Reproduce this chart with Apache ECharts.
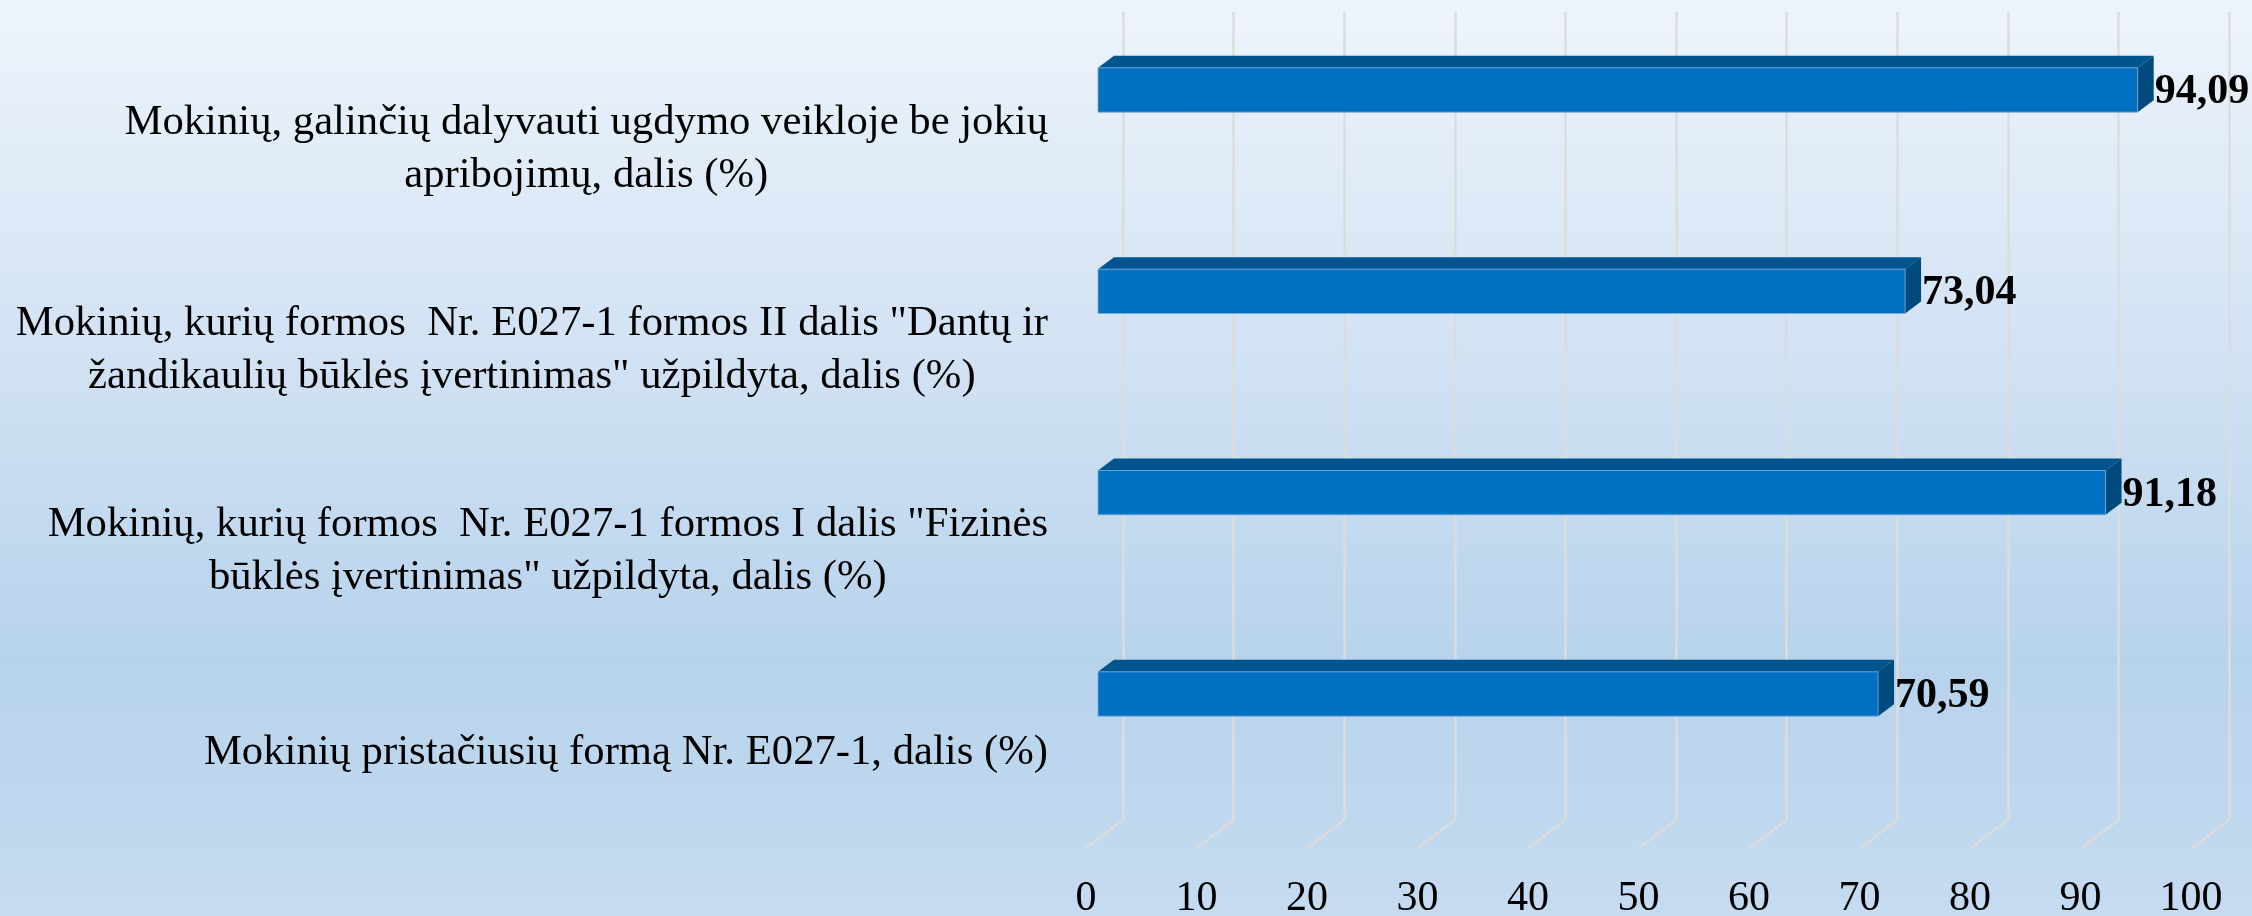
<!DOCTYPE html>
<html>
<head>
<meta charset="utf-8">
<script src="https://cdn.jsdelivr.net/npm/echarts@6/dist/echarts.min.js"></script>
<style>
  html, body { margin: 0; padding: 0; }
  #chart { width: 2252px; height: 916px; }
</style>
</head>
<body>
<div id="chart"></div>
<script>
var categories = [
  'Mokinių, galinčių dalyvauti ugdymo veikloje be jokių\napribojimų, dalis (%)',
  'Mokinių, kurių formos  Nr. E027-1 formos II dalis "Dantų ir\nžandikaulių būklės įvertinimas" užpildyta, dalis (%)',
  'Mokinių, kurių formos  Nr. E027-1 formos I dalis "Fizinės\nbūklės įvertinimas" užpildyta, dalis (%)',
  'Mokinių pristačiusių formą Nr. E027-1, dalis (%)'
];
var values = [94.09, 73.04, 91.18, 70.59];
var xTicks = [0, 10, 20, 30, 40, 50, 60, 70, 80, 90, 100];

var FONT = '"Liberation Serif", "Times New Roman", serif';

function fmt(v) {
  return v.toFixed(2).replace('.', ',');
}

// 3D bar: front face + top + right side, like the excel picture
function renderBar(params, api) {
  var v = api.value(0);
  var c = api.value(1);
  var start = api.coord([0, c]);
  var end = api.coord([v, c]);
  var h = api.size([0, 1])[1] * 0.22;
  var x0 = start[0], x1 = end[0];
  var y0 = end[1] - h / 2, y1 = end[1] + h / 2;
  var dx = 16, dy = 12;
  return {
    type: 'group',
    children: [
      { type: 'polygon', shape: { points: [[x0, y0], [x0 + dx, y0 - dy], [x1 + dx, y0 - dy], [x1, y0]] },
        style: { fill: '#00558f' } },
      { type: 'polygon', shape: { points: [[x1, y0], [x1 + dx, y0 - dy], [x1 + dx, y1 - dy], [x1, y1]] },
        style: { fill: '#004a7e' } },
      { type: 'rect', shape: { x: x0, y: y0, width: x1 - x0, height: h },
        style: { fill: '#0070c0', stroke: 'rgba(120,170,220,0.8)', lineWidth: 1 } },
      { type: 'text', style: { text: fmt(v), x: x1 + dx + 1, y: end[1] + 2, align: 'left', verticalAlign: 'middle',
        font: 'bold 42px ' + FONT, fill: '#000' } }
    ]
  };
}

// small diagonal feet of the back wall gridlines
function renderFoot(params, api) {
  var p = api.coord([api.value(0), 0]);
  return {
    type: 'line',
    shape: { x1: p[0], y1: p[1], x2: p[0] - 37, y2: p[1] + 28 },
    style: { stroke: '#dcdcdc', lineWidth: 2.5 }
  };
}

var chart = echarts.init(document.getElementById('chart'));

var option = {
  animation: false,
  backgroundColor: new echarts.graphic.LinearGradient(0, 0, 0, 1, [
    { offset: 0, color: '#eef4fb' },
    { offset: 0.5, color: '#c9ddf1' },
    { offset: 0.72, color: '#b7d3ec' },
    { offset: 1, color: '#c5dbf0' }
  ]),
  grid: [
    { left: 1123, right: 23, top: 12, bottom: 96, outerBoundsMode: 'none' },
    { left: 1098, right: 49, top: 90, bottom: 222, outerBoundsMode: 'none' }
  ],
  xAxis: [{
    gridIndex: 0,
    type: 'value',
    min: 0,
    max: 100,
    interval: 10,
    axisLine: { show: false },
    axisTick: { show: false },
    axisLabel: { show: false },
    splitLine: { show: true, lineStyle: { color: '#dcdcdc', width: 2.5 } }
  }, {
    gridIndex: 1,
    type: 'value',
    min: 0,
    max: 100,
    interval: 10,
    axisLine: { show: false },
    axisTick: { show: false },
    splitLine: { show: false },
    axisLabel: {
      margin: 184,
      fontFamily: FONT,
      fontSize: 42,
      color: '#000',
      padding: [0, 24, 0, 0],
      formatter: function (v) {
        return xTicks.indexOf(v) >= 0 ? String(v) : '';
      }
    }
  }],
  yAxis: [{
    gridIndex: 0,
    type: 'value',
    min: 0,
    max: 1,
    show: false
  }, {
    gridIndex: 1,
    type: 'category',
    inverse: true,
    boundaryGap: false,
    data: categories,
    axisLine: { show: false },
    axisTick: { show: false },
    splitLine: { show: false },
    axisLabel: {
      margin: 50,
      align: 'right',
      padding: [118, 0, 0, 0],
      formatter: function (val) {
        return val.split('\n').map(function (s) { return '{c|' + s + '}'; }).join('\n');
      },
      rich: {
        c: { align: 'center', fontFamily: FONT, fontSize: 42.7, lineHeight: 53, color: '#000' }
      }
    }
  }],
  series: [{
    type: 'custom',
    xAxisIndex: 0,
    yAxisIndex: 0,
    renderItem: renderFoot,
    data: xTicks.map(function (t) { return [t]; }),
    silent: true
  }, {
    type: 'custom',
    xAxisIndex: 1,
    yAxisIndex: 1,
    renderItem: renderBar,
    encode: { x: 0, y: 1 },
    data: values.map(function (v, i) { return [v, i]; }),
    z: 3
  }]
};

chart.setOption(option);
</script>
</body>
</html>
